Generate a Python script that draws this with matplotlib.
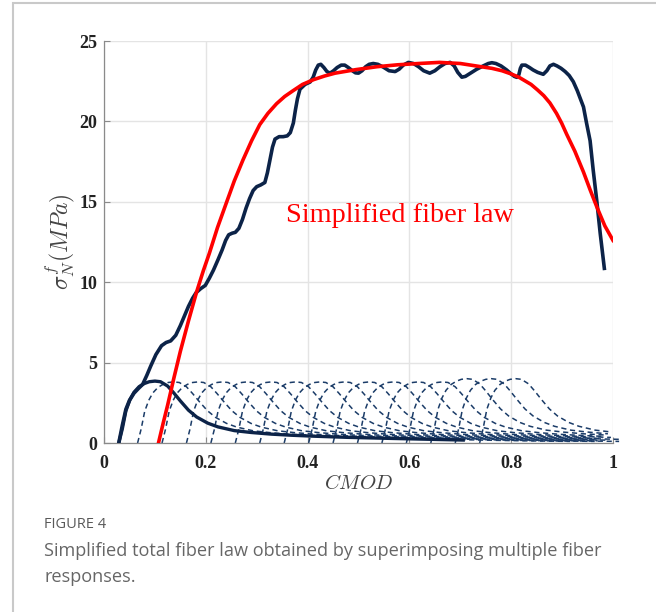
import matplotlib
matplotlib.use("Agg")
import matplotlib.pyplot as plt
from matplotlib.patches import Rectangle

# Curva total (soma das fibras)
cmod_total = [0.029, 0.036, 0.043, 0.050, 0.059, 0.068, 0.076, 0.084, 0.092, 0.102,
              0.113, 0.122, 0.131, 0.141, 0.150, 0.158, 0.166, 0.174, 0.181, 0.190,
              0.199, 0.207, 0.215, 0.224, 0.232, 0.239, 0.245, 0.252, 0.258, 0.265,
              0.272, 0.279, 0.286, 0.293, 0.300, 0.308, 0.316, 0.321, 0.326, 0.331,
              0.336, 0.344, 0.352, 0.360, 0.366, 0.372, 0.376, 0.380, 0.385, 0.395,
              0.405, 0.411, 0.416, 0.421, 0.426, 0.432, 0.438, 0.444, 0.451, 0.458,
              0.466, 0.473, 0.480, 0.488, 0.494, 0.500, 0.507, 0.514, 0.521, 0.529,
              0.538, 0.549, 0.560, 0.572, 0.580, 0.588, 0.598, 0.608, 0.618, 0.628,
              0.640, 0.650, 0.660, 0.670, 0.680, 0.688, 0.695, 0.703, 0.710, 0.720,
              0.732, 0.745, 0.755, 0.762, 0.770, 0.780, 0.791, 0.800, 0.806, 0.811,
              0.815, 0.818, 0.821, 0.828, 0.836, 0.843, 0.852, 0.863, 0.870, 0.876,
              0.883, 0.890, 0.898, 0.906, 0.914, 0.922, 0.930, 0.936, 0.942, 0.948,
              0.955, 0.961, 0.968, 0.975, 0.983]
sigma_total = [0.0, 1.1, 2.1, 2.65, 3.1, 3.4, 3.65, 4.2, 4.8, 5.5,
               6.05, 6.25, 6.35, 6.7, 7.3, 7.9, 8.5, 9.0, 9.35, 9.6,
               9.8, 10.25, 10.75, 11.4, 12.0, 12.6, 12.95, 13.05, 13.1, 13.35,
               13.9, 14.6, 15.2, 15.7, 15.94, 16.05, 16.2, 16.8, 17.6, 18.4,
               18.9, 19.05, 19.05, 19.1, 19.3, 19.9, 20.7, 21.4, 22.0, 22.3,
               22.45, 22.75, 23.2, 23.5, 23.55, 23.35, 23.1, 23.0, 23.15, 23.35,
               23.5, 23.5, 23.35, 23.15, 23.02, 23.0, 23.15, 23.4, 23.55, 23.6,
               23.55, 23.37, 23.15, 23.1, 23.25, 23.5, 23.67, 23.6, 23.4, 23.15,
               23.0, 23.15, 23.4, 23.6, 23.67, 23.45, 23.05, 22.75, 22.8, 23.0,
               23.24, 23.45, 23.6, 23.65, 23.6, 23.45, 23.2, 22.95, 22.8, 22.74,
               22.9, 23.3, 23.5, 23.5, 23.35, 23.2, 23.05, 22.93, 23.15, 23.45,
               23.55, 23.45, 23.3, 23.1, 22.85, 22.47, 21.9, 21.4, 20.9, 19.9,
               18.8, 17.0, 15.1, 13.0, 10.86]

# Lei simplificada (vermelho)
cmod_simpl = [0.107, 0.116, 0.125, 0.137, 0.150, 0.166, 0.182, 0.195, 0.207, 0.223,
              0.240, 0.256, 0.273, 0.290, 0.306, 0.322, 0.339, 0.355, 0.371, 0.390,
              0.412, 0.433, 0.454, 0.495, 0.536, 0.577, 0.618, 0.659, 0.700, 0.741,
              0.762, 0.782, 0.800, 0.815, 0.839, 0.852, 0.864, 0.876, 0.889, 0.899,
              0.909, 0.925, 0.942, 0.955, 0.968, 0.984, 1.0]
sigma_simpl = [0.0, 1.2, 2.35, 4.0, 5.7, 7.6, 9.4, 10.7, 11.8, 13.4,
               14.9, 16.3, 17.6, 18.8, 19.8, 20.5, 21.1, 21.55, 21.9, 22.3,
               22.6, 22.82, 23.0, 23.22, 23.4, 23.52, 23.6, 23.67, 23.6, 23.4,
               23.3, 23.15, 22.95, 22.75, 22.3, 21.95, 21.6, 21.15, 20.5, 19.9,
               19.2, 18.15, 16.85, 15.75, 14.7, 13.5, 12.6]

# Resposta de uma fibra (x relativo ao início, valor com pico 1)
fiber_rel = [0, 0.007, 0.014, 0.022, 0.030, 0.040, 0.050, 0.060, 0.071, 0.082,
             0.096, 0.108, 0.121, 0.137, 0.153, 0.175, 0.195, 0.227, 0.26, 0.30,
             0.34, 0.383, 0.45, 0.53, 0.61, 0.68, 0.76, 0.85, 0.95]
fiber_val = [0, 0.23, 0.52, 0.70, 0.82, 0.91, 0.96, 0.99, 1.0, 0.99,
             0.92, 0.81, 0.68, 0.53, 0.42, 0.32, 0.26, 0.20, 0.17, 0.143,
             0.125, 0.11, 0.091, 0.075, 0.06, 0.047, 0.036, 0.026, 0.018]

# Primeira fibra (linha cheia) e fibras tracejadas
first_start = 0.029
first_peak = 3.85
first_end = 0.73
dashed_start = [0.066, 0.114, 0.162, 0.210, 0.258, 0.306, 0.354, 0.402,
                0.450, 0.498, 0.546, 0.594, 0.642, 0.690, 0.738]
dashed_peak = [3.8, 3.8, 3.8, 3.8, 3.8, 3.8, 3.8, 3.8,
               3.8, 3.8, 3.8, 3.8, 4.0, 4.0, 4.0]
x_end = 1.012

navy = "#0c2348"
navy_dash = "#1b3c68"

plt.rcParams["font.family"] = ["Liberation Serif", "DejaVu Serif"]
plt.rcParams["mathtext.fontset"] = "cm"

fig = plt.figure(figsize=(6.56, 6.12), dpi=100)
ax = fig.add_axes([104 / 656, 1 - 443 / 612, 509 / 656, 402 / 612])

# fibras tracejadas
for s, p in zip(dashed_start, dashed_peak):
    xs = [s + r for r in fiber_rel if s + r <= x_end]
    ys = [p * v for r, v in zip(fiber_rel, fiber_val) if s + r <= x_end]
    ax.plot(xs, ys, color=navy_dash, lw=1.1, ls=(0, (3.4, 2.4)), clip_on=False, zorder=2)

# primeira fibra
xs = [first_start + r for r in fiber_rel if first_start + r <= first_end]
ys = [first_peak * v for r, v in zip(fiber_rel, fiber_val) if first_start + r <= first_end]
ax.plot(xs, ys, color=navy, lw=2.4, zorder=3, solid_capstyle="butt")

ax.plot(cmod_total, sigma_total, color=navy, lw=2.6, zorder=4)
ax.plot(cmod_simpl, sigma_simpl, color="#ff0000", lw=2.6, zorder=5)

ax.text(0.582, 13.76, "Simplified fiber law", color="#ff0000", fontsize=20.3,
        ha="center", va="baseline")

ax.set_xlim(0, 1)
ax.set_ylim(0, 25)
ax.set_xticks([0, 0.2, 0.4, 0.6, 0.8, 1])
ax.set_xticklabels(["0", "0.2", "0.4", "0.6", "0.8", "1"])
ax.set_yticks([0, 5, 10, 15, 20, 25])
ax.grid(True, color="#e4e4e4", lw=1)
ax.set_axisbelow(True)
for side in ["top", "right"]:
    ax.spines[side].set_visible(False)
for side in ["left", "bottom"]:
    ax.spines[side].set_color("#8a8a8a")
    ax.spines[side].set_linewidth(0.9)
ax.tick_params(direction="in", length=4, color="#8a8a8a", labelsize=13)
ax.tick_params(axis="x", pad=9)
ax.tick_params(axis="y", pad=5)
for lab in ax.get_xticklabels() + ax.get_yticklabels():
    lab.set_fontweight("bold")
    lab.set_color("#222222")

ax.set_xlabel(r"$CMOD$", fontsize=15, color="#444444", labelpad=2)
ax.set_ylabel(r"$\sigma_N^f(MPa)$", fontsize=17, color="#444444", labelpad=1)

# moldura e legenda da figura
fig.patches.append(Rectangle((12.5 / 656, -0.1), 1.2, 1.1 - 2.5 / 612, transform=fig.transFigure,
                             fill=False, ec="#c9c9c9", lw=1.5))
fig.text(44 / 656, 1 - 525 / 612, "FIGURE 4", family="Open Sans", fontsize=10.5,
         color="#595959", va="center")
fig.text(44 / 656, 1 - 551 / 612, "Simplified total fiber law obtained by superimposing multiple fiber",
         family="Open Sans", fontsize=13.1, color="#666666", va="center")
fig.text(44 / 656, 1 - 577 / 612, "responses.", family="Open Sans", fontsize=13.1,
         color="#666666", va="center")

fig.savefig("out.png", dpi=100)
